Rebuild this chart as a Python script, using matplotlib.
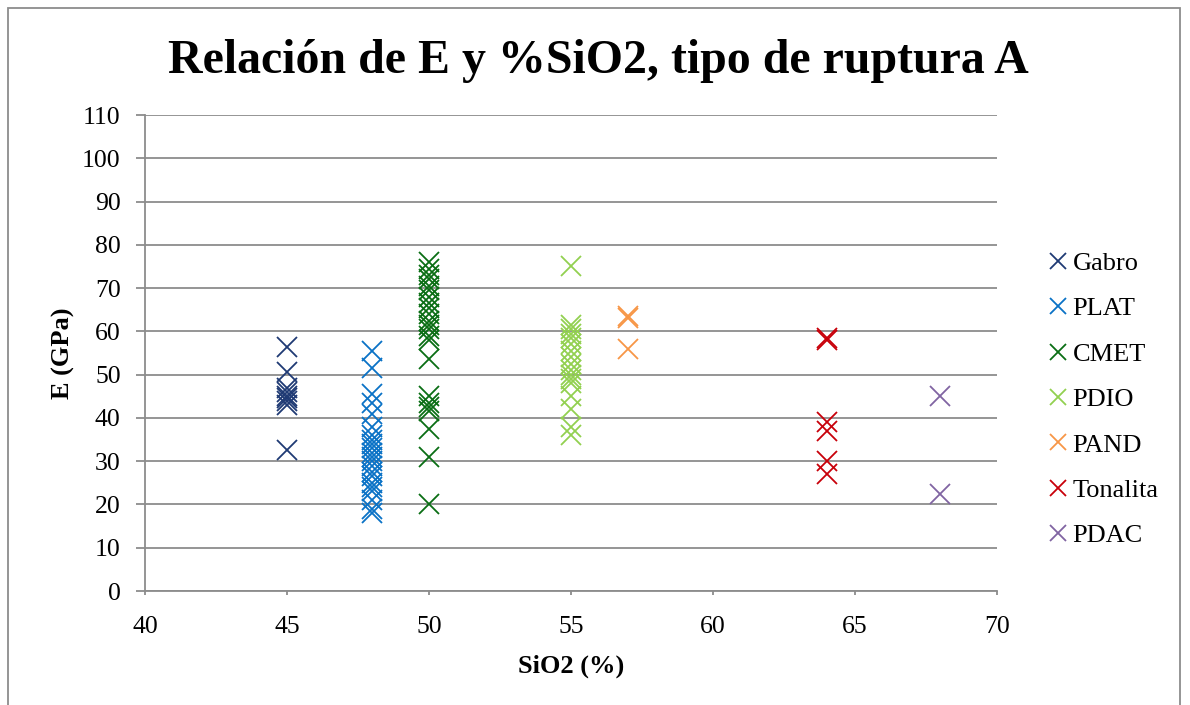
import numpy as np
import matplotlib.pyplot as plt
from matplotlib.patches import Rectangle

## Datos: E (GPa) por tipo de roca, tipo de ruptura A
series = ['Gabro', 'PLAT', 'CMET', 'PDIO', 'PAND', 'Tonalita', 'PDAC']
sio2 = [45, 48, 50, 55, 57, 64, 68]

e_gabro = [56.5, 50.5, 47, 46, 45, 44.5, 44, 43, 32.5]
e_plat = [55.5, 51.5, 45.5, 43.5, 41, 38, 36, 35, 34, 33, 32, 31, 30, 29,
          27.5, 26.5, 25, 24, 23, 21, 19, 18]
e_cmet = [76, 74.5, 73, 72, 70.5, 69.5, 68, 66.5, 65.5, 64, 62.5, 61.5, 60.5,
          59, 58, 53.5, 45, 43.5, 42.5, 41.5, 37.5, 31, 20]
e_pdio = [75, 61.5, 60.5, 59.5, 58.5, 57, 55.5, 54, 52.5, 51, 50, 49, 48, 45,
          42, 38, 36]
e_pand = [63.5, 63, 56]
e_tonalita = [58.5, 58, 39, 37, 30, 27]
e_pdac = [45, 22.5]

valores = [e_gabro, e_plat, e_cmet, e_pdio, e_pand, e_tonalita, e_pdac]
colores = ['#1F3A74', '#0A72C6', '#0A6E14', '#92D050', '#F79646', '#C8000A', '#8064A2']

plt.rcParams['font.family'] = ['Liberation Serif', 'DejaVu Serif']

fig = plt.figure(figsize=(11.9, 7.05), dpi=100)
ax = fig.add_axes([145/1190, 1-591/705, (997-145)/1190, (591-115)/705])

for nombre, x0, ys, c in zip(series, sio2, valores, colores):
    ax.plot(np.full(len(ys), x0), ys, linestyle='none', marker='x', ms=14,
            mew=1.3, color=c, label=nombre)

ax.set_xlim(40, 70)
ax.set_ylim(0, 110)
ax.set_xticks(np.arange(40, 71, 5))
ax.set_yticks(np.arange(0, 111, 10))
ax.grid(True, axis='y', color='#8C8C8C', linewidth=1.3)
ax.set_axisbelow(True)
for s in ['top', 'right']:
    ax.spines[s].set_visible(False)
for s in ['left', 'bottom']:
    ax.spines[s].set_color('#8C8C8C')
    ax.spines[s].set_linewidth(1.3)
ax.tick_params(axis='both', labelsize=18.5, colors='#8C8C8C', labelcolor='black',
               width=1.3)
ax.tick_params(axis='y', length=6.5, pad=11)
ax.tick_params(axis='x', length=3, pad=15)
ax.set_xlabel('SiO2 (%)', fontsize=19, fontweight='bold', labelpad=12)
ax.set_ylabel('E (GPa)', fontsize=19, fontweight='bold', labelpad=5)

fig.text(598/1190, 1-73/705, 'Relación de E y %SiO2, tipo de ruptura A',
         fontsize=34.5, fontweight='bold', ha='center', va='baseline')

ax.legend(loc='upper left', bbox_to_anchor=(1037/1190, 1-241/705),
          bbox_transform=fig.transFigure, frameon=False, fontsize=19,
          handlelength=0.8, handletextpad=0.15, labelspacing=0.83,
          markerscale=0.8, borderaxespad=0)

## marco exterior
fig.patches.append(Rectangle((8/1190, -0.05), (1180-8)/1190, 1.05-8/705,
                             transform=fig.transFigure, fill=False,
                             edgecolor='#8C8C8C', linewidth=1.3))

fig.savefig('out.png', dpi=100)
